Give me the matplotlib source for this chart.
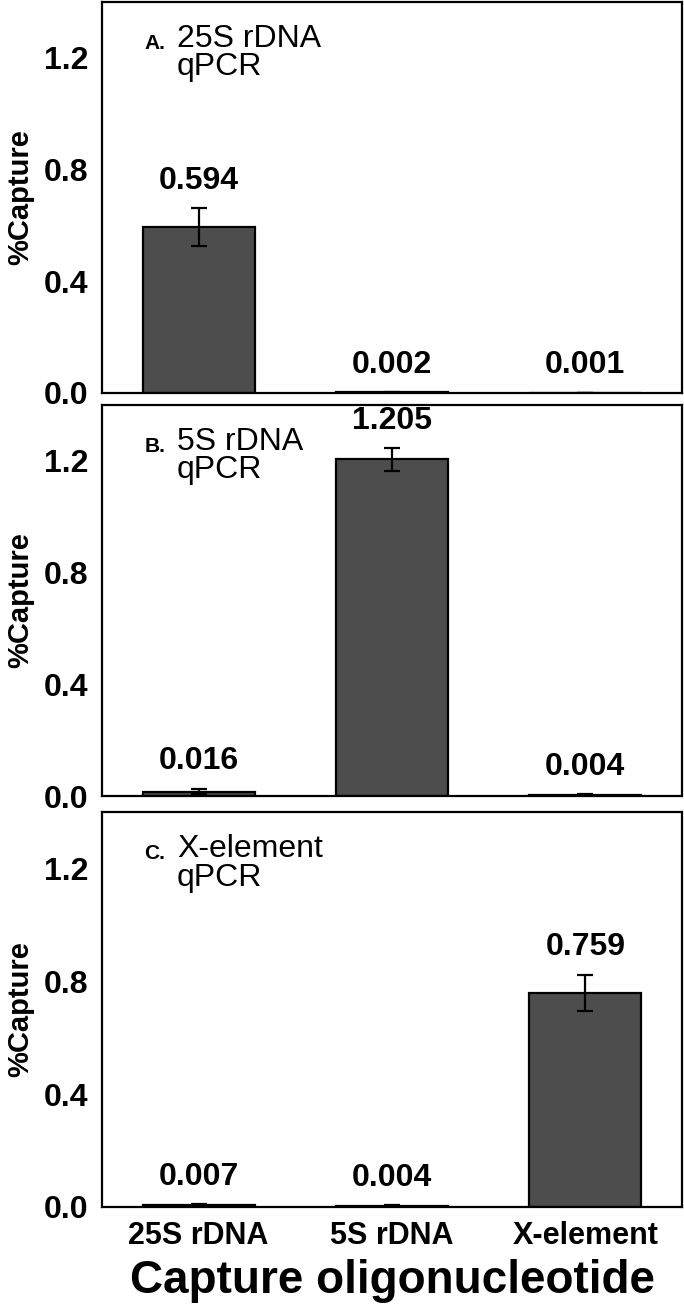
import matplotlib
matplotlib.use("Agg")
import matplotlib.pyplot as plt

plt.rcParams['font.family'] = ['Liberation Sans', 'DejaVu Sans']

categories = ["25S rDNA", "5S rDNA", "X-element"]
panel_letters = ["A.", "B.", "C."]
panel_titles = ["25S rDNA\nqPCR", "5S rDNA\nqPCR", "X-element\nqPCR"]
values_a = [0.594, 0.002, 0.001]
errors_a = [0.068, 0.001, 0.0005]
values_b = [0.016, 1.205, 0.004]
errors_b = [0.010, 0.040, 0.002]
values_c = [0.007, 0.004, 0.759]
errors_c = [0.003, 0.002, 0.065]
yticks = [0.0, 0.4, 0.8, 1.2]
ytick_labels = ["0.0", "0.4", "0.8", "1.2"]

W, H = 684, 1314
fig = plt.figure(figsize=(W / 100, H / 100), dpi=100)

# axes boxes in pixels: (left, top, right, bottom)
boxes = [(102, 2, 682, 393), (102, 405, 682, 796), (102, 812, 682, 1207)]
series = [(values_a, errors_a), (values_b, errors_b), (values_c, errors_c)]

x = list(range(len(categories)))
for i, (box, (vals, errs)) in enumerate(zip(boxes, series)):
    l, t, r, b = box
    ax = fig.add_axes([l / W, 1 - b / H, (r - l) / W, (b - t) / H])
    ax.bar(x, vals, width=0.58, color="#4d4d4d", edgecolor="black", linewidth=1.6,
           yerr=errs, error_kw=dict(ecolor="black", elinewidth=1.6, capsize=5.5, capthick=1.6))
    for xi, v, e in zip(x, vals, errs):
        ax.annotate(f"{v:.3f}", (xi, v + e), xytext=(0, 9), textcoords="offset points",
                    ha="center", va="bottom", fontsize=23, fontweight="bold")
    ax.set_xlim(-0.5, 2.5)
    ax.set_ylim(0, 1.4)
    ax.set_yticks(yticks)
    ax.set_yticklabels(ytick_labels, fontsize=23, fontweight="bold")
    ax.tick_params(axis="both", length=0, pad=10)
    for sp in ax.spines.values():
        sp.set_linewidth(1.6)
    ax.set_ylabel("%Capture", fontsize=21, fontweight="bold", labelpad=7)
    ax.text(0.073, 0.88, panel_letters[i], transform=ax.transAxes, fontsize=15,
            fontweight="bold", ha="left", va="baseline")
    ax.text(0.129, 0.945, panel_titles[i], transform=ax.transAxes, fontsize=23,
            ha="left", va="top", linespacing=0.95)
    if i < 2:
        ax.set_xticks([])
    else:
        ax.set_xticks(x)
        ax.set_xticklabels(categories, fontsize=22, fontweight="bold")
        ax.set_xlabel("Capture oligonucleotide", fontsize=33, fontweight="bold", labelpad=6)

fig.savefig("out.png", dpi=100)
